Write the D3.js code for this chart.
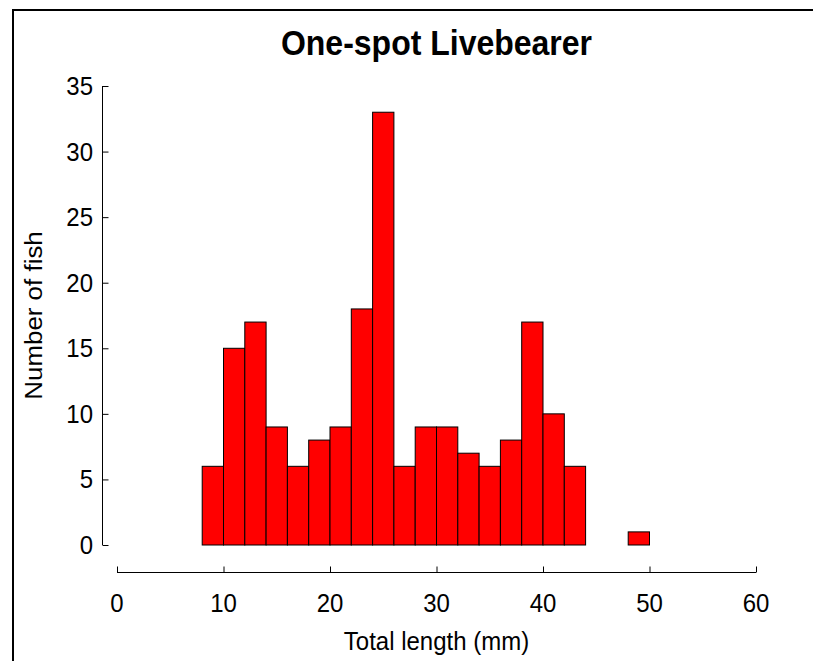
<!DOCTYPE html>
<html><head><meta charset="utf-8">
<script src="https://cdn.jsdelivr.net/npm/d3@7"></script>
<style>html,body{margin:0;padding:0;background:#fff;overflow:hidden}</style>
</head><body>
<script>
const binStarts = [8,10,12,14,16,18,20,22,24,26,28,30,32,34,36,38,40,42,48];
const counts    = [6,15,17,9,6,8,9,18,33,6,9,9,7,6,8,17,10,6,1];
const binWidth = 2;
const xTicks = [0,10,20,30,40,50,60];
const yTicks = [0,5,10,15,20,25,30,35];
const title = "One-spot Livebearer";
const xTitle = "Total length (mm)";
const yTitle = "Number of fish";

const W = 813, H = 661;
const svg = d3.select("body").append("svg").attr("width", W).attr("height", H);
const font = "Liberation Sans, Arial, sans-serif";
const sy = 1.08; // vertical stretch of text

// frame
svg.append("rect").attr("x", 13).attr("y", 10).attr("width", 900).attr("height", 900)
  .attr("fill", "none").attr("stroke", "#000").attr("stroke-width", 2);

const x = d3.scaleLinear().domain([0, 60]).range([117, 756]);
const y = d3.scaleLinear().domain([0, 35]).range([545, 86]);

// bars
svg.append("g").selectAll("rect").data(binStarts).join("rect")
  .attr("x", (d) => x(d))
  .attr("width", (d) => x(d + binWidth) - x(d))
  .attr("y", (d, i) => y(counts[i]))
  .attr("height", (d, i) => y(0) - y(counts[i]))
  .attr("fill", "#ff0000").attr("stroke", "#000").attr("stroke-width", 1);

// y axis
const yAxisX = 102.5;
const gy = svg.append("g").attr("transform", `translate(${yAxisX},0)`)
  .call(d3.axisRight(y).tickValues(yTicks).tickSize(6).tickFormat(""));
gy.select(".domain").remove();
gy.append("line").attr("x1", 0).attr("x2", 0).attr("y1", y(35)).attr("y2", y(0))
  .attr("stroke", "#000");
gy.selectAll(".tick line").attr("stroke", "#000");
svg.append("g").selectAll("text").data(yTicks).join("text")
  .attr("transform", (d) => `translate(93,${y(d) + 9}) scale(1,${sy})`)
  .attr("text-anchor", "end").attr("font-family", font).attr("font-size", 24)
  .text((d) => d);

// x axis
const xAxisY = 572.5;
const gx = svg.append("g").attr("transform", `translate(0,${xAxisY})`)
  .call(d3.axisTop(x).tickValues(xTicks).tickSize(6).tickFormat(""));
gx.select(".domain").remove();
gx.append("line").attr("x1", x(0)).attr("x2", x(60)).attr("y1", 0).attr("y2", 0)
  .attr("stroke", "#000");
gx.selectAll(".tick line").attr("stroke", "#000");
svg.append("g").selectAll("text").data(xTicks).join("text")
  .attr("transform", (d) => `translate(${x(d)},612) scale(1,${sy})`)
  .attr("text-anchor", "middle").attr("font-family", font).attr("font-size", 24)
  .text((d) => d);

// titles
const cx = (x(0) + x(60)) / 2;
svg.append("text").attr("transform", `translate(${cx},55) scale(1,${sy})`)
  .attr("text-anchor", "middle").attr("font-family", font).attr("font-size", 32)
  .attr("font-weight", "bold").text(title);
svg.append("text").attr("transform", `translate(${cx},650) scale(1,${sy})`)
  .attr("text-anchor", "middle").attr("font-family", font).attr("font-size", 24)
  .text(xTitle);
svg.append("text").attr("transform", `translate(42,${(y(0) + y(35)) / 2}) scale(1,${sy}) rotate(-90)`)
  .attr("text-anchor", "middle").attr("font-family", font).attr("font-size", 24)
  .text(yTitle);
</script>
</body></html>
